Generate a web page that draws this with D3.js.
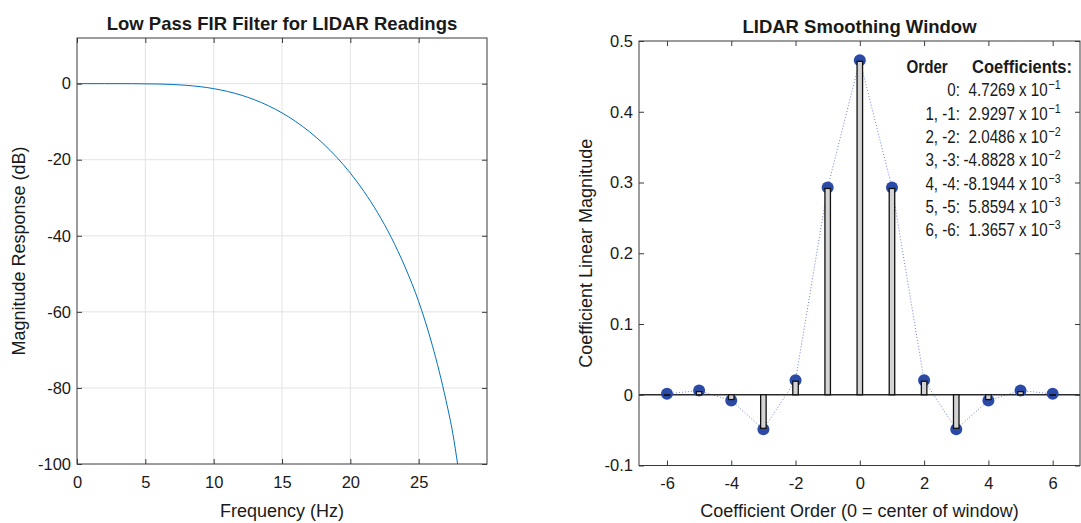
<!DOCTYPE html>
<html>
<head>
<meta charset="utf-8">
<script src="https://cdn.jsdelivr.net/npm/d3@7"></script>
<style>
  body { margin: 0; background: #fff; }
  text { font-family: "Liberation Sans", Arial, sans-serif; fill: #1a1a1a; }
</style>
</head>
<body>
<svg id="chart" width="1081" height="523"></svg>
<script>
// Left panel: magnitude response
const freqHz = [0, 2, 4, 6, 8, 10, 12, 14, 15, 16, 18, 20, 21, 22, 23, 24, 25, 26, 26.5, 27, 27.5, 27.85];
const magDb = [0, 0, -0.01, -0.1, -0.44, -1.31, -3.01, -5.8, -7.69, -9.95, -15.73, -23.52, -28.36, -33.95, -40.47, -48.17, -57.3, -68.8, -75.6, -83.3, -92, -100];
const freqTicks = [0, 5, 10, 15, 20, 25];
const magTicks = [-100, -80, -60, -40, -20, 0];

// Right panel: window coefficients
const coefOrder = [-6, -5, -4, -3, -2, -1, 0, 1, 2, 3, 4, 5, 6];
const coefValue = [0.0013657, 0.0058594, -0.0081944, -0.048828, 0.020486, 0.29297, 0.47269,
                   0.29297, 0.020486, -0.048828, -0.0081944, 0.0058594, 0.0013657];
const orderTicks = [-6, -4, -2, 0, 2, 4, 6];
const coefTicks = [-0.1, 0, 0.1, 0.2, 0.3, 0.4, 0.5];

// Legend text
const legendOrder = ["0:", "1, -1:", "2, -2:", "3, -3:", "4, -4:", "5, -5:", "6, -6:"];
const legendMantissa = ["4.7269", "2.9297", "2.0486", "-4.8828", "-8.1944", "5.8594", "1.3657"];
const legendExp = ["\u22121", "\u22121", "\u22122", "\u22122", "\u22123", "\u22123", "\u22123"];

const svg = d3.select("#chart");
const boxColor = "#3a3a3a";
const tickFont = "16.5px";
const plain = d => String(+(+d).toFixed(2)); // keeps "-" hyphen like the original

function styleAxis(g) {
    g.select(".domain").remove();
    g.selectAll("line").attr("stroke", boxColor);
    g.selectAll("text").style("font-size", tickFont).attr("fill", "#1a1a1a");
}

function frame(p, xScale, yScale, xt, yt) {
    // bottom + left with labels, top + right ticks only
    svg.append("g").attr("transform", `translate(0,${p.y1})`)
        .call(d3.axisBottom(xScale).tickValues(xt).tickFormat(plain).tickSizeInner(-5).tickSizeOuter(0).tickPadding(12))
        .call(styleAxis);
    svg.append("g").attr("transform", `translate(0,${p.y0})`)
        .call(d3.axisTop(xScale).tickValues(xt).tickFormat(() => "").tickSizeInner(-5).tickSizeOuter(0))
        .call(styleAxis);
    svg.append("g").attr("transform", `translate(${p.x0},0)`)
        .call(d3.axisLeft(yScale).tickValues(yt).tickFormat(plain).tickSizeInner(-5).tickSizeOuter(0).tickPadding(6))
        .call(styleAxis);
    svg.append("g").attr("transform", `translate(${p.x1},0)`)
        .call(d3.axisRight(yScale).tickValues(yt).tickFormat(() => "").tickSizeInner(-5).tickSizeOuter(0))
        .call(styleAxis);
    svg.append("rect")
        .attr("x", p.x0).attr("y", p.y0).attr("width", p.x1 - p.x0).attr("height", p.y1 - p.y0)
        .attr("fill", "none").attr("stroke", boxColor).attr("stroke-width", 1);
}

// ---------- Left: frequency response ----------
const L = { x0: 77, x1: 487, y0: 38, y1: 464 };
const xL = d3.scaleLinear().domain([0, 30]).range([L.x0, L.x1]);
const yL = d3.scaleLinear().domain([-100, 12]).range([L.y1, L.y0]);

const gridL = svg.append("g").attr("stroke", "#e3e3e3").attr("stroke-width", 1);
gridL.selectAll(".gx").data(freqTicks.filter(d => d > 0)).join("line")
    .attr("x1", d => xL(d)).attr("x2", d => xL(d)).attr("y1", L.y0).attr("y2", L.y1);
gridL.selectAll(".gy").data(magTicks.filter(d => d > -100)).join("line")
    .attr("x1", L.x0).attr("x2", L.x1).attr("y1", d => yL(d)).attr("y2", d => yL(d));

svg.append("clipPath").attr("id", "clipL").append("rect")
    .attr("x", L.x0).attr("y", L.y0).attr("width", L.x1 - L.x0).attr("height", L.y1 - L.y0);

const resp = freqHz.map((f, i) => [f, magDb[i]]);
svg.append("path")
    .datum(resp)
    .attr("clip-path", "url(#clipL)")
    .attr("fill", "none")
    .attr("stroke", "#0072BD")
    .attr("stroke-width", 1)
    .attr("d", d3.line().x(d => xL(d[0])).y(d => yL(d[1])).curve(d3.curveMonotoneX));

frame(L, xL, yL, freqTicks, magTicks);

svg.append("text").attr("x", (L.x0 + L.x1) / 2).attr("y", 30)
    .attr("text-anchor", "middle").style("font-size", "18.5px").style("font-weight", "bold")
    .text("Low Pass FIR Filter for LIDAR Readings");
svg.append("text").attr("x", (L.x0 + L.x1) / 2).attr("y", 517)
    .attr("text-anchor", "middle").style("font-size", "18px")
    .text("Frequency (Hz)");
svg.append("text").attr("transform", `translate(25,${(L.y0 + L.y1) / 2}) rotate(-90)`)
    .attr("text-anchor", "middle").style("font-size", "18px")
    .text("Magnitude Response (dB)");

// ---------- Right: smoothing window ----------
const R = { x0: 639, x1: 1080, y0: 41, y1: 465.5 };
const xR = d3.scaleLinear().domain([-6.87, 6.85]).range([R.x0, R.x1]);
const yR = d3.scaleLinear().domain([-0.1, 0.5]).range([R.y1, R.y0]);
const coefs = coefOrder.map((o, i) => ({ o, v: coefValue[i] }));

// dotted envelope through the markers
svg.append("path")
    .datum(coefs)
    .attr("fill", "none")
    .attr("stroke", "#6f82dc")
    .attr("stroke-width", 1)
    .attr("stroke-dasharray", "1,2")
    .attr("d", d3.line().x(d => xR(d.o)).y(d => yR(d.v)));

// zero baseline
svg.append("line")
    .attr("x1", R.x0).attr("x2", R.x1).attr("y1", yR(0)).attr("y2", yR(0))
    .attr("stroke", "#2b2b2b").attr("stroke-width", 1.6);

// markers
svg.append("g").selectAll("circle")
    .data(coefs)
    .join("circle")
    .attr("cx", d => xR(d.o))
    .attr("cy", d => yR(d.v))
    .attr("r", 6)
    .attr("fill", "#2b4aa8");

// stems, drawn over the markers starting just inside the dot
svg.append("g").selectAll("rect")
    .data(coefs)
    .join("rect")
    .attr("x", d => xR(d.o) - 2.75)
    .attr("width", 5.5)
    .attr("y", d => d.v >= 0 ? yR(d.v) + 1 : yR(0))
    .attr("height", d => Math.max(Math.abs(yR(d.v) - yR(0)) - 1, 0.5))
    .attr("fill", "#d4d4d4")
    .attr("stroke", "#111")
    .attr("stroke-width", 1.3);

frame(R, xR, yR, orderTicks, coefTicks);

svg.append("text").attr("x", (R.x0 + R.x1) / 2).attr("y", 33)
    .attr("text-anchor", "middle").style("font-size", "18.5px").style("font-weight", "bold")
    .text("LIDAR Smoothing Window");
svg.append("text").attr("x", (R.x0 + R.x1) / 2).attr("y", 517)
    .attr("text-anchor", "middle").style("font-size", "18px")
    .text("Coefficient Order (0 = center of window)");
svg.append("text").attr("transform", `translate(592,${(R.y0 + R.y1) / 2}) rotate(-90)`)
    .attr("text-anchor", "middle").style("font-size", "18px")
    .text("Coefficient Linear Magnitude");

// coefficient table, squeezed horizontally to mimic the narrow font
const squeeze = 0.82, anchorX = 1072;
const lx = x => anchorX + (x - anchorX) / squeeze;
const leg = svg.append("g")
    .attr("transform", `translate(${anchorX},0) scale(${squeeze},1) translate(${-anchorX},0)`)
    .style("font-size", "18.5px");
leg.append("text").attr("x", lx(906.5)).attr("y", 73).style("font-weight", "bold").text("Order");
leg.append("text").attr("x", lx(972)).attr("y", 73)
    .attr("textLength", 100 / squeeze).attr("lengthAdjust", "spacingAndGlyphs")
    .style("font-weight", "bold").text("Coefficients:");
const rowY = i => 96.5 + i * 23.3;
leg.selectAll(".lab").data(legendOrder).join("text")
    .attr("x", lx(960)).attr("y", (d, i) => rowY(i)).attr("text-anchor", "end").text(d => d);
leg.selectAll(".man").data(legendMantissa).join("text")
    .attr("x", lx(1015)).attr("y", (d, i) => rowY(i)).attr("text-anchor", "end").text(d => d);
leg.selectAll(".pow").data(legendExp).join("text")
    .attr("x", lx(1019)).attr("y", (d, i) => rowY(i))
    .each(function (d) {
        const t = d3.select(this);
        t.append("tspan").text("x 10");
        t.append("tspan").attr("dy", -7).attr("dx", 1).style("font-size", "13px").text(d);
    });
</script>
</body>
</html>
